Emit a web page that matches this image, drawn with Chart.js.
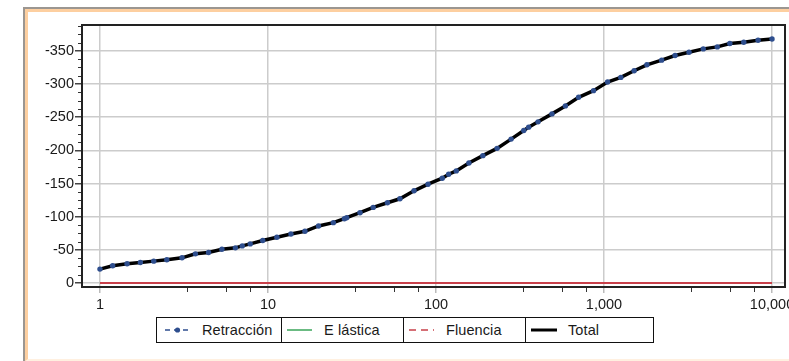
<!DOCTYPE html>
<html>
<head>
<meta charset="utf-8">
<script src="https://cdn.jsdelivr.net/npm/chart.js@4/dist/chart.umd.min.js"></script>
<style>
  html, body { margin: 0; padding: 0; background: #fff; overflow: hidden; }
  body { width: 789px; height: 361px; position: relative; font-family: 'Liberation Sans', Arial, sans-serif; }
  .frame  { position: absolute; left: 23px; top: 7px; width: 800px; height: 354px;
            border-left: 2px solid #9b9691; border-top: 2px solid #9b9691; box-sizing: border-box; }
  .frame2 { position: absolute; left: 0; top: 0; right: 0; bottom: 0;
            border-left: 3px solid #fdcfa0; border-top: 3px solid #fdcfa0; border-bottom: 2px solid #fff0e0; }
  .wrap   { position: absolute; left: 0; top: 0; width: 789px; height: 361px; }
  .legend { position: absolute; left: 156px; top: 317px; height: 26px; display: flex;
            border: 1.5px solid #111; box-sizing: border-box; background: #fff; }
  .legend .cell { display: flex; align-items: center; height: 100%; box-sizing: border-box;
                  border-right: 1.5px solid #111; font-size: 14.5px; color: #1a1a1a; letter-spacing: 0.1px; }
  .legend .cell:last-child { border-right: none; }
  .legend svg { margin-right: 11px; flex: none; }
</style>
</head>
<body>
<div class="frame"><div class="frame2"></div></div>
<div class="wrap"><canvas id="chart"></canvas></div>
<div class="legend" id="legend"></div>

<script>
// tiempo (días, escala log) y deformación por retracción
const times      = [1, 1.19, 1.45, 1.74, 2.09, 2.5, 3.08, 3.7, 4.43, 5.32, 6.4, 7.03, 7.84, 9.31,
                    11.3, 13.7, 16.6, 20, 24.5, 28.5, 29.4, 35.3, 42.3, 51.4, 61, 74, 89.7,
                    109, 119, 132, 157, 190, 231, 280, 333, 356, 405, 490, 589, 706, 866,
                    1050, 1259, 1511, 1800, 2204, 2648, 3206, 3898, 4721, 5610, 6790, 8260, 10000];
const retraccion = [-21, -26, -29, -31, -33, -35, -38, -44, -46, -51, -53, -56, -59, -64,
                    -69, -74, -78, -86, -91, -97, -98.5, -106, -114, -121, -127, -139, -149,
                    -158, -164, -169, -181, -192, -203, -217, -230, -235, -243, -255, -267, -280, -290,
                    -303, -310, -320, -329, -336, -343, -348, -353, -356, -361, -363, -366, -368];
const total      = [-21, -26, -29, -31, -33, -35, -38, -44, -46, -51, -53, -56, -59, -64,
                    -69, -74, -78, -86, -91, -97, -98.5, -106, -114, -121, -127, -139, -149,
                    -158, -164, -169, -181, -192, -203, -217, -230, -235, -243, -255, -267, -280, -290,
                    -303, -310, -320, -329, -336, -343, -348, -353, -356, -361, -363, -366, -368];
const lineTimes  = [1, 10000];
const elastica   = [0, 0];
const fluencia   = [0, 0];

const xTicks      = [1, 10, 100, 1000, 10000];
const xMinorMults = [3.3, 5.6, 7.8];
const yTicks      = [-350, -300, -250, -200, -150, -100, -50, 0];

const FONT = { family: "'Liberation Sans', Arial, sans-serif", size: 14.5 };
const pts  = (xs, ys) => xs.map((x, i) => ({ x, y: ys[i] }));

const legendItems = [
  { label: 'Retracción', w: 125, svg: '<line x1="0" y1="5" x2="25" y2="5" stroke="#2e4e8e" stroke-width="1.5" stroke-dasharray="5,4"/><circle cx="12.5" cy="5" r="2.6" fill="#2e4e8e"/>' },
  { label: 'E lástica',  w: 122, svg: '<line x1="0" y1="5" x2="25" y2="5" stroke="#3aa55a" stroke-width="1.5"/>' },
  { label: 'Fluencia',   w: 122, svg: '<line x1="0" y1="5" x2="25" y2="5" stroke="#c8404a" stroke-width="1.5" stroke-dasharray="7,5"/>' },
  { label: 'Total',      w: 127, svg: '<line x1="0" y1="5" x2="26" y2="5" stroke="#000" stroke-width="3"/>' },
];
document.getElementById('legend').innerHTML = legendItems.map(it => `
  <div class="cell" style="width:${it.w}px;padding-left:${it.label === 'Retracción' ? 8 : 5}px">
    <svg width="26" height="10">${it.svg}</svg><span>${it.label}</span>
  </div>`).join('');

// marcas menores y marco del área de trazado
const framePlugin = {
  id: 'frame',
  afterDraw(chart) {
    const { ctx, chartArea: a, scales: { x, y } } = chart;
    ctx.save();
    ctx.strokeStyle = '#333';
    ctx.lineWidth = 1;
    ctx.beginPath();
    for (let v = 0; v >= y.min; v -= 12.5) {
      if (v % 50 === 0) continue;
      const py = Math.round(y.getPixelForValue(v)) + 0.5;
      ctx.moveTo(a.left - 4, py); ctx.lineTo(a.left, py);
    }
    for (const d of [1, 10, 100, 1000]) {
      for (const m of xMinorMults) {
        const px = Math.round(x.getPixelForValue(d * m)) + 0.5;
        ctx.moveTo(px, a.bottom); ctx.lineTo(px, a.bottom + 5);
      }
    }
    ctx.stroke();
    ctx.strokeStyle = '#222';
    ctx.lineWidth = 2;
    ctx.strokeRect(a.left, a.top, a.right - a.left, a.bottom - a.top);
    ctx.restore();
  }
};

new Chart(document.getElementById('chart'), {
  type: 'line',
  data: {
    datasets: [
      {
        label: 'Retracción',
        data: pts(times, retraccion),
        showLine: false,
        pointRadius: 2.7,
        pointBackgroundColor: '#2e4e8e',
        pointBorderWidth: 0,
      },
      {
        label: 'Fluencia',
        data: pts(lineTimes, fluencia),
        borderColor: '#c8404a',
        borderWidth: 2.2,
        pointRadius: 0,
      },
      {
        label: 'E lástica',
        data: pts(lineTimes, elastica),
        borderColor: '#3aa55a',
        borderWidth: 2,
        pointRadius: 0,
      },
      {
        label: 'Total',
        data: pts(times, total),
        borderColor: '#000',
        borderWidth: 3.5,
        pointRadius: 0,
      },
    ],
  },
  options: {
    responsive:          true,
    maintainAspectRatio: false,
    animation:           false,
    layout: { padding: { top: 25, right: 2, bottom: 49, left: 0 } },
    plugins: {
      legend:  { display: false },
      tooltip: { enabled: false },
    },
    scales: {
      x: {
        type: 'logarithmic',
        min: 0.782,
        max: 11945,
        border: { display: false },
        grid: { color: '#cccccc', lineWidth: 1.5, tickLength: 6, tickColor: '#bbbbbb' },
        ticks: {
          color: '#1a1a1a', font: FONT, padding: 3, maxRotation: 0, autoSkip: false,
          callback: v => Number(v).toLocaleString('en-US'),
        },
        afterBuildTicks: s => { s.ticks = xTicks.map(v => ({ value: v, major: true })); },
        afterFit: s => { s.height = 25; s.paddingLeft = 0; s.paddingRight = 0; },
      },
      y: {
        type: 'linear',
        reverse: true,
        min: -389,
        max: 6,
        border: { display: false },
        grid: { color: '#cccccc', lineWidth: 1.5, tickLength: 7, tickColor: '#444' },
        ticks: { color: '#1a1a1a', font: FONT, padding: 1, stepSize: 50 },
        afterBuildTicks: s => { s.ticks = yTicks.map(v => ({ value: v })); },
        afterFit: s => { s.width = 82; s.paddingTop = 0; s.paddingBottom = 0; },
      },
    },
  },
  plugins: [framePlugin],
});
</script>
</body>
</html>
